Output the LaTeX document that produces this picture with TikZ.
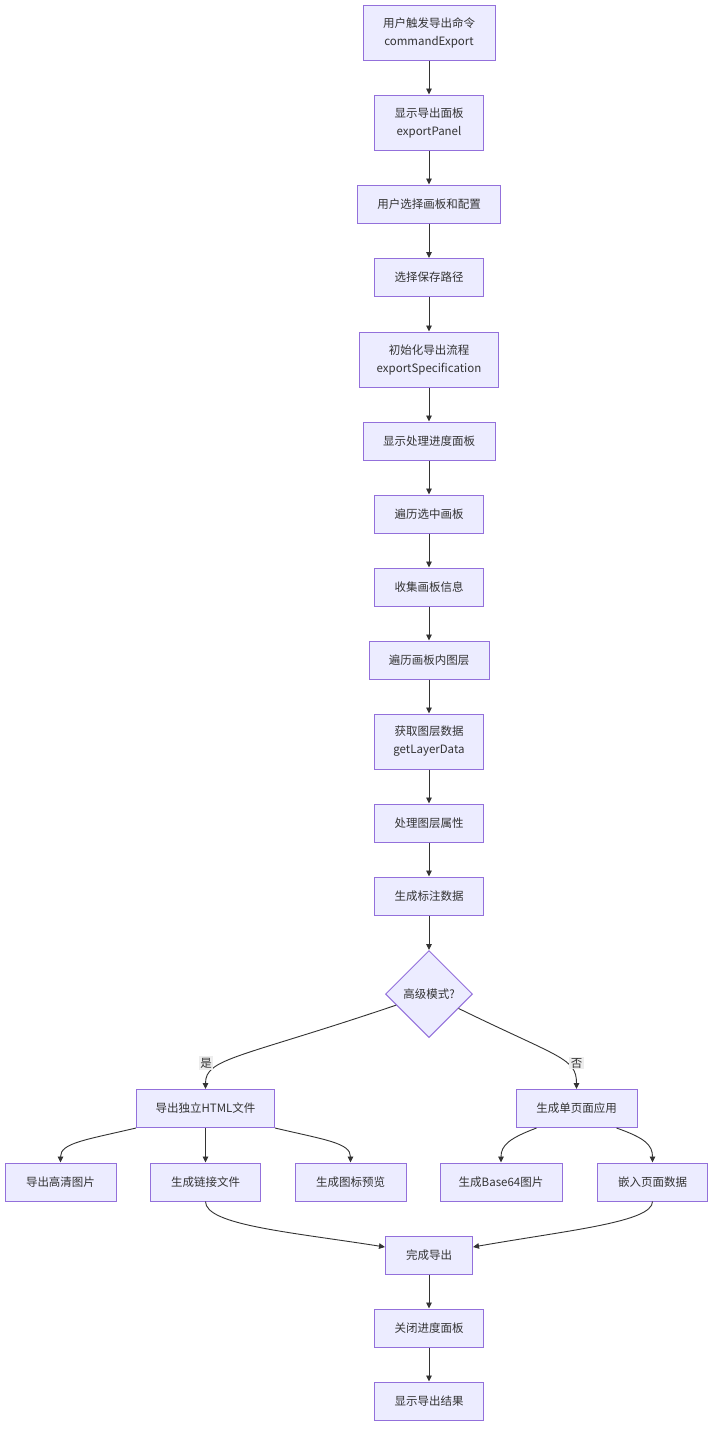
\documentclass[tikz,border=0pt]{standalone}
\usepackage{fontspec}
\setmainfont{Noto Sans CJK SC}
\usetikzlibrary{shapes.geometric,arrows.meta}
\definecolor{nodefill}{HTML}{ECECFF}
\definecolor{nodeline}{HTML}{9370DB}
\definecolor{edgecol}{HTML}{333333}
\definecolor{lblbg}{HTML}{EDEDED}
\begin{document}
\begin{tikzpicture}[x=1pt,y=-1pt,
  box/.style={draw=nodeline,fill=nodefill,line width=1pt,minimum height=38pt,inner sep=0pt,align=center,text=edgecol,font=\fontsize{11.5}{18}\selectfont},
  tall/.style={minimum height=55pt},
  dec/.style={diamond,draw=nodeline,fill=nodefill,line width=1pt,minimum width=87pt,minimum height=87pt,inner sep=0pt,text=edgecol,font=\fontsize{11.5}{18}\selectfont},
  edge/.style={draw=edgecol,line width=0.9pt,-{Triangle[length=6pt,width=5.5pt]}},
  lbl/.style={fill=lblbg,inner sep=1.5pt,text=edgecol,font=\fontsize{11.5}{14}\selectfont}]
\useasboundingbox[fill=white] (0,0) rectangle (720,1441);
\node[box,tall,minimum width=132pt] (n1) at (429,32.5) {用户触发导出命令\\commandExport};
\node[box,tall,minimum width=109pt] (n2) at (429,122.5) {显示导出面板\\exportPanel};
\node[box,minimum width=143pt] (n3) at (429,204) {用户选择画板和配置};
\node[box,minimum width=109pt] (n4) at (429,277.5) {选择保存路径};
\node[box,tall,minimum width=139pt] (n5) at (429,359.5) {初始化导出流程\\exportSpecification};
\node[box,minimum width=132pt] (n6) at (429,441) {显示处理进度面板};
\node[box,minimum width=109pt] (n7) at (429,514) {遍历选中画板};
\node[box,minimum width=109pt] (n8) at (429,587) {收集画板信息};
\node[box,minimum width=120pt] (n9) at (429,660) {遍历画板内图层};
\node[box,tall,minimum width=109pt] (n10) at (429,741.5) {获取图层数据\\getLayerData};
\node[box,minimum width=109pt] (n11) at (429,823) {处理图层属性};
\node[box,minimum width=109pt] (n12) at (429,896) {生成标注数据};
\node[dec] (d) at (429,994) {高级模式?};
\node[box,minimum width=138pt] (h) at (205.5,1108.5) {导出独立HTML文件};
\node[box,minimum width=121pt] (s) at (576.5,1108.5) {生成单页面应用};
\node[box,minimum width=111pt] (a1) at (60.5,1182) {导出高清图片};
\node[box,minimum width=110pt] (a2) at (205.5,1182) {生成链接文件};
\node[box,minimum width=111pt] (a3) at (350.5,1182) {生成图标预览};
\node[box,minimum width=122pt] (b1) at (501,1182) {生成Base64图片};
\node[box,minimum width=110pt] (b2) at (652.5,1182) {嵌入页面数据};
\node[box,minimum width=87pt] (f) at (429,1255) {完成导出};
\node[box,minimum width=109pt] (g) at (429,1328) {关闭进度面板};
\node[box,minimum width=109pt] (r) at (429,1401) {显示导出结果};
\draw[edge] (n1) -- (n2);
\draw[edge] (n2) -- (n3);
\draw[edge] (n3) -- (n4);
\draw[edge] (n4) -- (n5);
\draw[edge] (n5) -- (n6);
\draw[edge] (n6) -- (n7);
\draw[edge] (n7) -- (n8);
\draw[edge] (n8) -- (n9);
\draw[edge] (n9) -- (n10);
\draw[edge] (n10) -- (n11);
\draw[edge] (n11) -- (n12);
\draw[edge] (n12) -- (d);
\draw[edge] (d) .. controls (240,1058) and (205.5,1058) .. (h.north);
\draw[edge] (d) .. controls (560,1058) and (576.5,1058) .. (s.north);
\node[lbl] (ly) at (206,1063) {是};
\node[lbl] (ln) at (576.5,1063) {否};
\draw[edge] (h.south west) .. controls (85,1140) and (60.5,1143) .. (a1.north);
\draw[edge] (h) -- (a2);
\draw[edge] (h.south east) .. controls (326,1140) and (350.5,1143) .. (a3.north);
\draw[edge] ([xshift=21pt]s.south west) .. controls (510,1138) and (501,1145) .. (b1.north);
\draw[edge] ([xshift=-21pt]s.south east) .. controls (645,1138) and (652.5,1145) .. (b2.north);
\draw[edge] (a2.south) .. controls (205.5,1225) and (290,1232) .. ([yshift=8pt]f.west);
\draw[edge] (b2.south) .. controls (652.5,1222) and (570,1230) .. ([yshift=8pt]f.east);
\draw[edge] (f) -- (g);
\draw[edge] (g) -- (r);
\end{tikzpicture}
\end{document}
